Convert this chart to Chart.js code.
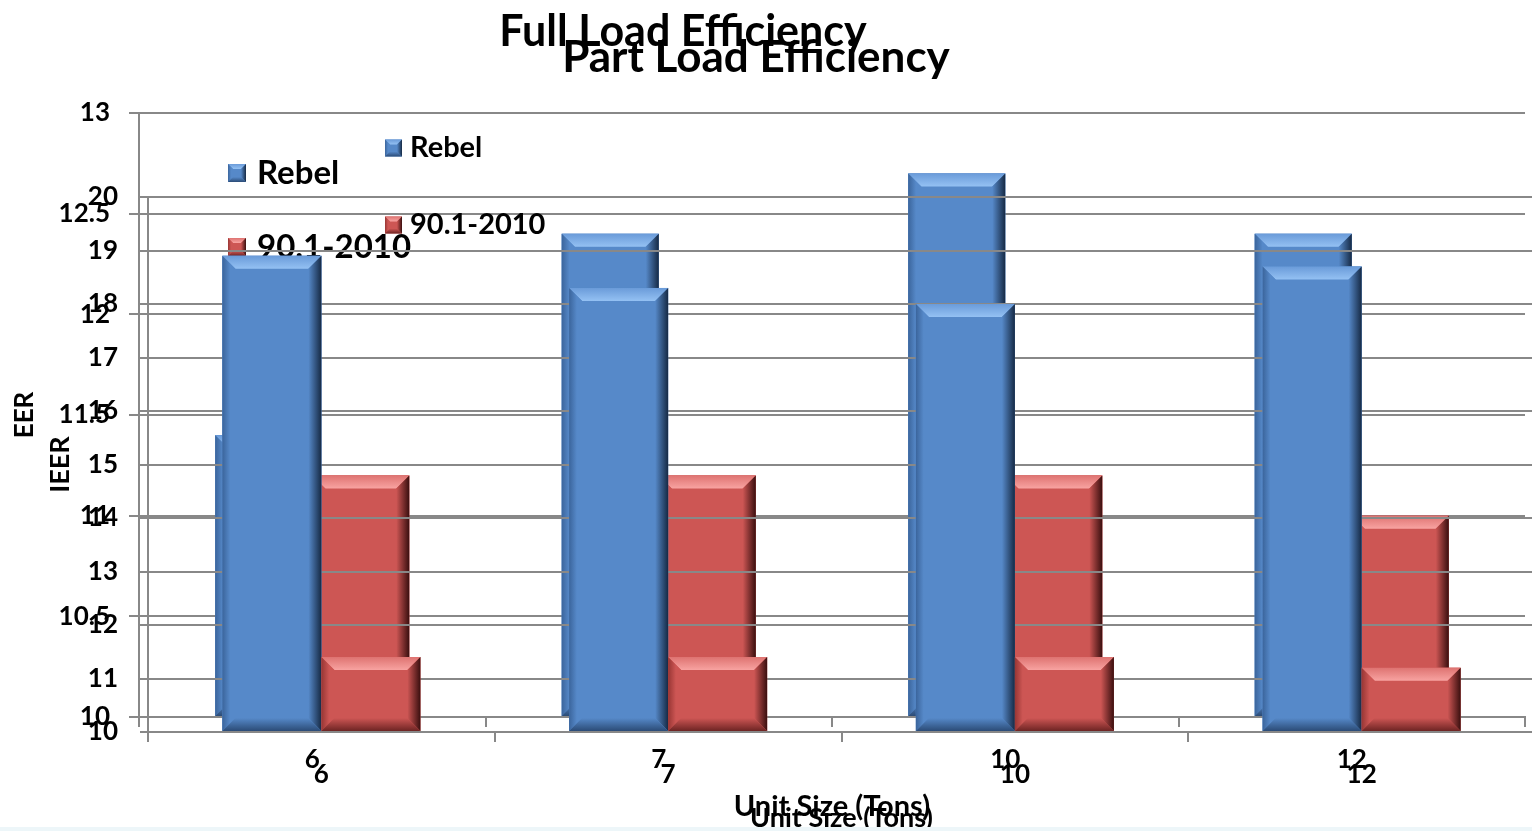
<!DOCTYPE html>
<html>
<head>
<meta charset="utf-8">
<script src="https://cdn.jsdelivr.net/npm/chart.js@4.4.1/dist/chart.umd.min.js"></script>
<style>
  html, body { margin: 0; padding: 0; background: #fff; overflow: hidden; }
  #wrap { position: relative; width: 1532px; height: 831px; overflow: hidden; }
  #wrap canvas { position: absolute; left: 0; top: 0; }
  #band { position: absolute; left: 0; bottom: 0; width: 1532px; height: 4px; background: #edf6f9; }
</style>
</head>
<body>
<div id="wrap">
  <canvas id="full" width="1532" height="831"></canvas>
  <canvas id="part" width="1540" height="831"></canvas>
  <div id="band"></div>
</div>
<script>
// unit sizes (tons)
const sizes = ["6", "7", "10", "12"];
// full load EER
const eerRebel = [11.4, 12.4, 12.7, 12.4];
const eerStd = [11.2, 11.2, 11.2, 11.0];
// part load IEER
const ieerRebel = [18.9, 18.3, 18.0, 18.7];
const ieerStd = [11.4, 11.4, 11.4, 11.2];

Chart.defaults.font.family = "Lato, 'Open Sans', sans-serif";

const shades = {
  blue: { base: "#5689c9", top: ["#6a9bd9", "#94c1f3"], left: "#3b659c", right: "#162a45", bottom: "#2b4b76" },
  red: { base: "#cd5654", top: ["#de7371", "#f8a3a1"], left: "#983634", right: "#3a0f0f", bottom: "#6d2423" }
};

function poly(ctx, pts, fill) {
  ctx.beginPath();
  ctx.moveTo(pts[0][0], pts[0][1]);
  for (let i = 1; i < pts.length; i++) ctx.lineTo(pts[i][0], pts[i][1]);
  ctx.closePath();
  ctx.fillStyle = fill;
  ctx.fill();
}

// excel-style bevelled box
function bevelBox(ctx, l, t, r, b, s, c) {
  ctx.save();
  ctx.fillStyle = c.base;
  ctx.fillRect(l, t, r - l, b - t);
  let g = ctx.createLinearGradient(0, t, 0, t + s);
  g.addColorStop(0, c.top[0]);
  g.addColorStop(1, c.top[1]);
  poly(ctx, [[l, t], [r, t], [r - s, t + s], [l + s, t + s]], g);
  g = ctx.createLinearGradient(l, 0, l + s * 0.6, 0);
  g.addColorStop(0, c.left);
  g.addColorStop(1, c.base);
  poly(ctx, [[l, t], [l + s, t + s], [l + s, b - s], [l, b]], g);
  g = ctx.createLinearGradient(r - s, 0, r, 0);
  g.addColorStop(0, c.base);
  g.addColorStop(1, c.right);
  poly(ctx, [[r, t], [r, b], [r - s, b - s], [r - s, t + s]], g);
  g = ctx.createLinearGradient(0, b - s, 0, b);
  g.addColorStop(0, c.base);
  g.addColorStop(1, c.bottom);
  poly(ctx, [[l, b], [l + s, b - s], [r - s, b - s], [r, b]], g);
  ctx.restore();
}

const bevelPlugin = {
  id: "bevel",
  afterDatasetsDraw(chart) {
    const ctx = chart.ctx;
    chart.data.datasets.forEach((ds, i) => {
      chart.getDatasetMeta(i).data.forEach((bar) => {
        const { x, y, base, width } = bar.getProps(["x", "y", "base", "width"], true);
        bevelBox(ctx, x - width / 2, y, x + width / 2, base, 13, shades[ds.shade]);
      });
    });
  }
};

// title + legend drawn where the original slide had them
const overlayText = {
  id: "overlayText",
  afterDraw(chart, args, opts) {
    const ctx = chart.ctx;
    ctx.save();
    ctx.fillStyle = "#000";
    ctx.textBaseline = "middle";
    ctx.textAlign = "center";
    ctx.font = "bold " + opts.titleSize + "px Lato, 'Open Sans', sans-serif";
    ctx.fillText(opts.title, opts.titleX, opts.titleY);
    ctx.textAlign = "left";
    ctx.font = "bold " + opts.legendSize + "px Lato, 'Open Sans', sans-serif";
    chart.data.datasets.forEach((ds, i) => {
      const y = opts.legendY[i];
      bevelBox(ctx, opts.legendX, y - opts.box / 2, opts.legendX + opts.box, y + opts.box / 2, 5, shades[ds.shade]);
      ctx.fillStyle = "#000";
      ctx.fillText(ds.label, opts.legendX + opts.box + opts.gap, y);
    });
    ctx.restore();
  }
};

function axisOpts(o) {
  return {
    x: {
      grid: { drawOnChartArea: false, color: "#888", lineWidth: 2, tickLength: 10 },
      border: { color: "#888", width: 2 },
      ticks: { color: "#000", font: { size: 26, weight: "bold" }, padding: o.xPad },
      title: {
        display: true, text: "Unit Size (Tons)", color: "#000",
        font: { size: o.xTitleSize, weight: "bold" }, padding: { top: 0, bottom: o.xTitlePad }
      },
      afterFit: (s) => { s.height = o.xHeight; }
    },
    y: {
      min: o.min, max: o.max,
      ticks: {
        stepSize: o.step, color: "#000", font: { size: 26, weight: "bold" }, padding: o.yPad,
        callback: (v) => String(v)
      },
      grid: { color: "#888", lineWidth: 2, tickLength: o.tick },
      border: { color: "#888", width: 2 },
      title: {
        display: true, text: o.yTitle, color: "#000",
        font: { size: o.yTitleSize, weight: "bold" }, padding: { top: o.yTitlePad, bottom: 0 }
      },
      afterFit: (s) => { s.width = o.yWidth; }
    }
  };
}

new Chart(document.getElementById("full"), {
  type: "bar",
  data: {
    labels: sizes,
    datasets: [
      { label: "Rebel", data: eerRebel, shade: "blue", backgroundColor: shades.blue.base },
      { label: "90.1-2010", data: eerStd, shade: "red", backgroundColor: shades.red.base }
    ]
  },
  options: {
    responsive: false,
    animation: false,
    layout: { padding: { top: 113, right: 7, bottom: 0, left: 0 } },
    datasets: { bar: { categoryPercentage: 0.56, barPercentage: 1, base: 10 } },
    plugins: {
      legend: { display: false },
      tooltip: { enabled: false },
      overlayText: {
        title: "Full Load Efficiency", titleSize: 43, titleX: 683, titleY: 32,
        legendSize: 33, legendX: 228, legendY: [173, 247], box: 18, gap: 11
      }
    },
    scales: axisOpts({
      min: 10, max: 13, step: 0.5, yTitle: "EER", yTitleSize: 26, yTitlePad: 9,
      yPad: 19, tick: 10, yWidth: 139, xPad: 17, xTitleSize: 29, xTitlePad: 7, xHeight: 114
    })
  },
  plugins: [bevelPlugin, overlayText]
});

new Chart(document.getElementById("part"), {
  type: "bar",
  data: {
    labels: sizes,
    datasets: [
      { label: "Rebel", data: ieerRebel, shade: "blue", backgroundColor: shades.blue.base },
      { label: "90.1-2010", data: ieerStd, shade: "red", backgroundColor: shades.red.base }
    ]
  },
  options: {
    responsive: false,
    animation: false,
    layout: { padding: { top: 197, right: 5, bottom: 0, left: 0 } },
    datasets: { bar: { categoryPercentage: 0.571, barPercentage: 1, base: 10 } },
    plugins: {
      legend: { display: false },
      tooltip: { enabled: false },
      overlayText: {
        title: "Part Load Efficiency", titleSize: 44, titleX: 756, titleY: 58,
        legendSize: 29, legendX: 385, legendY: [148, 225], box: 17, gap: 8
      }
    },
    scales: axisOpts({
      min: 10, max: 20, step: 1, yTitle: "IEER", yTitleSize: 27, yTitlePad: 44,
      yPad: 22, tick: 8, yWidth: 148, xPad: 17, xTitleSize: 27, xTitlePad: -3, xHeight: 99
    })
  },
  plugins: [bevelPlugin, overlayText]
});
</script>
</body>
</html>
